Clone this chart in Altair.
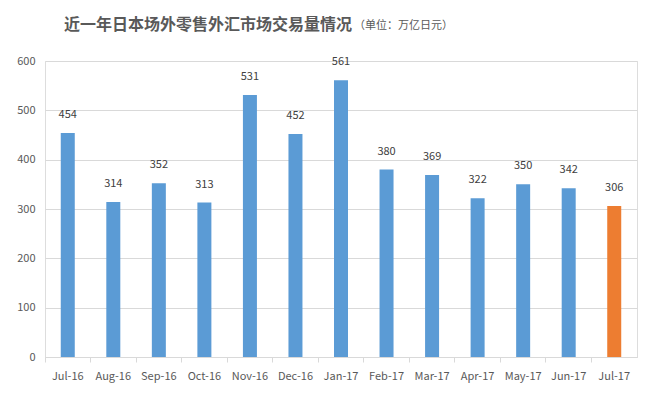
import altair as alt
import pandas as pd

months = ["Jul-16", "Aug-16", "Sep-16", "Oct-16", "Nov-16", "Dec-16", "Jan-17",
          "Feb-17", "Mar-17", "Apr-17", "May-17", "Jun-17", "Jul-17"]
volumes = [454, 314, 352, 313, 531, 452, 561, 380, 369, 322, 350, 342, 306]
highlight = ["base"] * 12 + ["latest"]

title_main = "近一年日本场外零售外汇市场交易量情况"
title_unit = "（单位：万亿日元）"

df = pd.DataFrame({"month": months, "volume": volumes, "kind": highlight})

FONT = "Noto Sans CJK SC"
TXT = "#595959"

x_enc = alt.X("month:N", sort=months, title=None,
              scale=alt.Scale(paddingInner=0, paddingOuter=0),
              axis=alt.Axis(labelAngle=0, labelFontSize=11, labelColor=TXT, labelFont=FONT,
                            domainColor="#D9D9D9", tickColor="#D9D9D9", tickSize=5,
                            bandPosition=0, labelPadding=8))

bars = alt.Chart(df).mark_bar(size=14).encode(
    x=x_enc,
    y=alt.Y("volume:Q", title=None,
            scale=alt.Scale(domain=[0, 600], nice=False),
            axis=alt.Axis(values=[0, 100, 200, 300, 400, 500, 600], domain=False, ticks=False,
                          gridColor="#D9D9D9", labelFontSize=11, labelColor=TXT,
                          labelFont=FONT, labelPadding=10)),
    color=alt.Color("kind:N", legend=None,
                    scale=alt.Scale(domain=["base", "latest"], range=["#5B9BD5", "#ED7D31"])),
)

labels = alt.Chart(df).mark_text(baseline="middle", dy=-18, fontSize=11, color="#404040",
                                 font=FONT).encode(
    x=alt.X("month:N", sort=months),
    y="volume:Q",
    text="volume:Q",
)

main_t = alt.Chart(pd.DataFrame({"t": [title_main]})).mark_text(
    align="left", baseline="middle", fontSize=16, fontWeight=600, color=TXT, font=FONT
).encode(x=alt.value(19), y=alt.value(-36), text="t:N")

unit = alt.Chart(pd.DataFrame({"t": [title_unit]})).mark_text(
    align="left", baseline="middle", fontSize=11, color=TXT, font=FONT
).encode(x=alt.value(309), y=alt.value(-35), text="t:N")

chart = alt.layer(bars, labels, main_t, unit).properties(
    width=592, height=296,
    autosize="none",
    padding={"left": 37, "top": 53, "right": 12, "bottom": 30},
).configure_view(stroke=None).configure(background="white")

chart.save("out.html", embed_options={"renderer": "svg", "actions": False})
